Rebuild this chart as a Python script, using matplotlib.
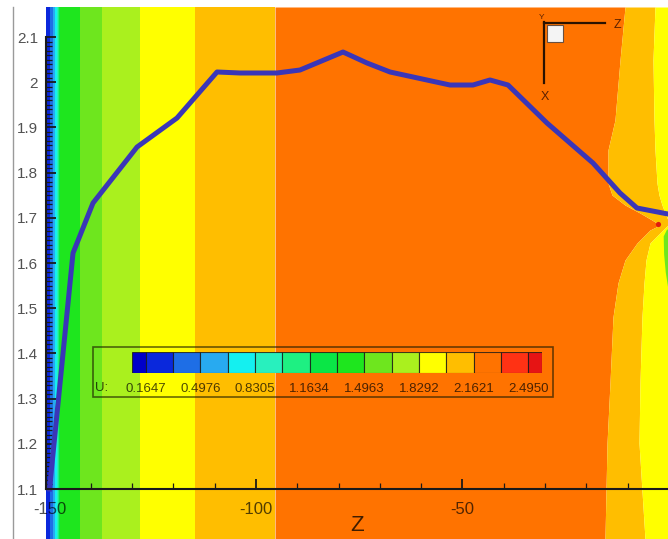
import numpy as np
import matplotlib
matplotlib.use("Agg")
import matplotlib.pyplot as plt
from matplotlib.ticker import FixedLocator
from matplotlib.patches import Rectangle

plt.rcParams['font.family'] = ['Liberation Sans', 'DejaVu Sans']

# Contour levels of U and the legend colours (one more colour than levels)
levels = [0.1647, 0.3312, 0.4976, 0.6641, 0.8305, 0.9970, 1.1634, 1.3299,
          1.4963, 1.6628, 1.8292, 1.9957, 2.1621, 2.3286, 2.4950]
level_labels = ['0.1647', '0.4976', '0.8305', '1.1634', '1.4963', '1.8292',
                '2.1621', '2.4950']
level_colors = ['#0000c8', '#0a28dc', '#1e6ee6', '#28aaf0', '#14f0f0', '#28f0be',
                '#1ef082', '#0ae646', '#1ee61e', '#6ee61e', '#aaf01e', '#ffff00',
                '#ffbe00', '#ff7300', '#ff3214', '#e61414']

# Straight contour bands near the wall (Z edges) and their colour index
z_lo, z_hi = -150.85, -0.24
y_lo, y_hi = 0.9894, 2.1664
left_edges = [-150.85, -149.88, -149.27, -148.67, -148.3, -148.06, -147.82,
              -147.46, -142.62, -137.29, -128.09, -114.77, -95.4]
left_bands = [1, 2, 3, 4, 5, 6, 7, 8, 9, 10, 11, 12]

# Curved bands near the outlet: Z of the orange / amber edges at each X
right_y = [2.1664, 2.0491, 1.9164, 1.85, 1.777, 1.7504, 1.7283, 1.7106, 1.6951,
           1.684, 1.673, 1.6442, 1.6066, 1.5558, 1.4805, 1.3345, 1.2018, 0.9894]
orange_edge = [-10.65, -11.86, -13.08, -14.77, -14.77, -13.8, -10.65, -7.02, -4.12,
               -2.18, -4.6, -7.75, -10.65, -12.35, -13.56, -14.29, -15.0, -15.5]
amber_edge = [-3.39, -3.87, -3.63, -3.39, -2.91, -2.42, -1.69, -0.97, -0.24,
              -0.24, -1.45, -4.6, -5.57, -6.05, -6.54, -7.02, -7.26, -5.81]
green_y = [1.675, 1.66, 1.62, 1.58, 1.545]
green_edge = [-0.6, -1.4, -1.3, -0.9, -0.3]

# Extracted profile
prof_z = [-150.0, -144.31, -139.47, -128.81, -119.13, -109.44, -103.87, -94.92,
          -89.35, -78.93, -73.12, -67.55, -53.03, -47.46, -43.34, -38.98, -29.54,
          -18.4, -11.86, -7.75, -0.24]
prof_x = [1.10, 1.622, 1.7327, 1.8566, 1.9208, 2.0226, 2.0204, 2.0204, 2.027,
          2.0668, 2.0425, 2.0226, 1.9938, 1.9938, 2.0049, 1.9938, 1.9097, 1.8212,
          1.7549, 1.7217, 1.7084]
stag_z, stag_x = [-2.66], [1.686]

fig = plt.figure(figsize=(6.68, 5.39), dpi=100)
ax = fig.add_axes([46 / 668, 0, 622 / 668, 532 / 539])
ax.set_xlim(z_lo, z_hi)
ax.set_ylim(y_lo, y_hi)

# flood
for i, c in enumerate(left_bands):
    ax.axvspan(left_edges[i], left_edges[i + 1], color=level_colors[c], lw=0)
ax.fill_betweenx(right_y, left_edges[-1], orange_edge, color=level_colors[13], lw=0)
ax.fill_betweenx(right_y, orange_edge, amber_edge, color=level_colors[12], lw=0)
ax.fill_betweenx(right_y, amber_edge, z_hi, color=level_colors[11], lw=0)
ax.fill_betweenx(green_y, green_edge, z_hi, color=level_colors[9], lw=0)

ax.plot(prof_z, prof_x, color='#3a36b8', lw=3.6, solid_joinstyle='round', zorder=5)
ax.scatter(stag_z, stag_x, s=14, color='#e01a10', zorder=6, lw=0)

# axes in Tecplot style
for s in ['top', 'right']:
    ax.spines[s].set_visible(False)
ax.spines['left'].set_bounds(1.1, 2.1)
ax.spines['bottom'].set_position(('data', 1.1))
ax.spines['bottom'].set_bounds(z_lo, z_hi)
for s in ['left', 'bottom']:
    ax.spines[s].set_color('#1a1a1a')
    ax.spines[s].set_linewidth(1.5)
    ax.spines[s].set_zorder(7)

yt = [1.1, 1.2, 1.3, 1.4, 1.5, 1.6, 1.7, 1.8, 1.9, 2.0, 2.1]
ax.set_yticks(yt, ['1.1', '1.2', '1.3', '1.4', '1.5', '1.6', '1.7', '1.8', '1.9', '2', '2.1'])
ax.set_xticks([-150, -100, -50], ['-150', '-100', '-50'])
ax.yaxis.set_minor_locator(FixedLocator(np.arange(110, 211) / 100))
ax.xaxis.set_minor_locator(FixedLocator(np.arange(-140, 0, 10)))
ax.tick_params(which='both', direction='in', color='#1a1a1a', zorder=7)
ax.tick_params(which='major', length=7, width=1.3)
ax.tick_params(which='minor', length=4.5, width=0.9)
ax.tick_params(axis='y', labelsize=11, pad=5.8, labelcolor=(0, 0, 0, 0.68))
ax.tick_params(axis='x', labelsize=12, pad=9, labelcolor=(0, 0, 0, 0.68))
ax.text(0.5, 0.026, 'Z', transform=ax.transAxes, ha='center', va='center',
        fontsize=16, color=(0, 0, 0, 0.75))

# legend
ax.add_patch(Rectangle((0.0756, 0.267), 0.739, 0.094, transform=ax.transAxes,
                       fill=False, ec=(0.1, 0.1, 0, 0.65), lw=1.2, zorder=8))
leg = ax.inset_axes([0.1383, 0.312, 0.6592, 0.0395])
lefts = [-0.5] + list(range(len(levels)))
widths = [0.5] + [1] * (len(levels) - 1) + [0.5]
leg.bar(lefts, 1, width=widths, align='edge', color=level_colors,
        edgecolor=(0.1, 0.1, 0.1, 0.8), lw=0.8)
leg.set_xlim(-0.5, len(levels) - 0.5)
leg.set_ylim(0, 1)
leg.patch.set_alpha(0)
for s in leg.spines.values():
    s.set_visible(False)
leg.set_yticks([])
leg.set_xticks(range(0, len(levels), 2), level_labels)
leg.tick_params(axis='x', length=0, pad=7, labelsize=9.5, labelcolor=(0, 0, 0, 0.7))
ax.text(0.0790, 0.284, 'U:', transform=ax.transAxes, ha='left', va='center',
        fontsize=9.5, color=(0, 0, 0, 0.7), zorder=8)

# axis triad
tc = '#2a1200'
ax.plot([0.8006, 0.8006], [0.9718, 0.857], color=tc, lw=1.6, transform=ax.transAxes, zorder=8)
ax.plot([0.8006, 0.8987], [0.970, 0.970], color=tc, lw=1.6, transform=ax.transAxes, zorder=8)
ax.add_patch(Rectangle((0.8055, 0.934), 0.0255, 0.032, transform=ax.transAxes,
                       fc='#f4f4f4', ec='#6a5040', lw=0.8, zorder=8))
ax.text(0.918, 0.966, 'Z', transform=ax.transAxes, ha='center', va='center',
        fontsize=9, color=(0.2, 0.05, 0, 0.8))
ax.text(0.802, 0.831, 'X', transform=ax.transAxes, ha='center', va='center',
        fontsize=9, color=(0.2, 0.05, 0, 0.8))
ax.text(0.797, 0.981, 'Y', transform=ax.transAxes, ha='center', va='center',
        fontsize=6, color=(0.2, 0.05, 0, 0.8))

# frame line at the left of the page
fig.add_artist(plt.Line2D([13 / 668, 13 / 668], [0, 532 / 539], color='#9a9a9a', lw=1))

fig.savefig('out.png', dpi=100)
